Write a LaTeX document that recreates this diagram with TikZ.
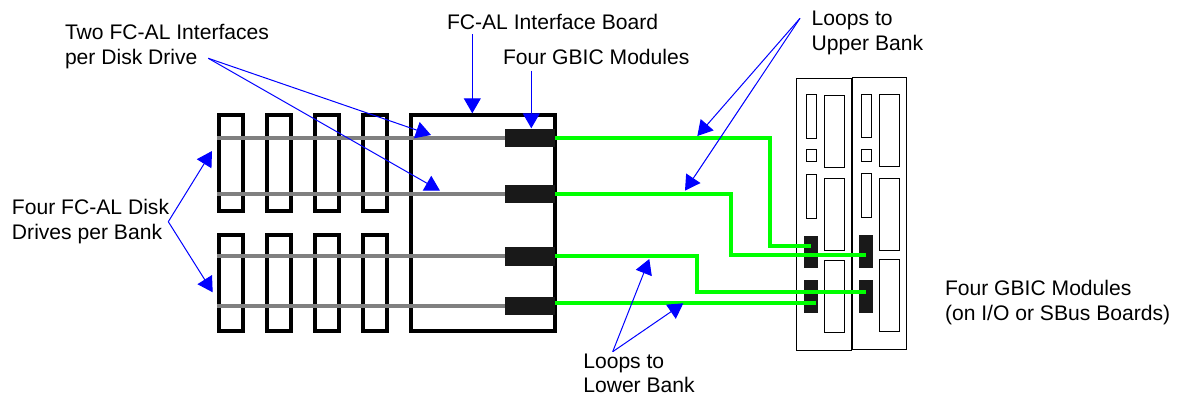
\documentclass[tikz,border=0pt]{standalone}
\usepackage{fontspec}
\setmainfont{Liberation Sans}
\usetikzlibrary{arrows.meta}
\tikzset{
    disk/.style={draw, line width=3.4pt, inner sep=0pt, outer sep=0pt, minimum width=24pt, minimum height=96pt},
    module/.style={fill=black!90, inner sep=0pt, outer sep=0pt},
    slot/.style={draw, line width=1pt, fill=white, inner sep=0pt, outer sep=0pt},
    wire/.style={draw=black!50, line width=4pt},
    fibre/.style={draw=green, line width=4pt},
    pointer/.style={blue, line width=1pt, -{Triangle[length=15pt,width=17pt]}},
    caption/.style={inner sep=0pt, outer sep=0pt, align=left, anchor=base west, font=\fontsize{21.1}{24.6}\selectfont}
}
\begin{document}
\begin{tikzpicture}[x=1pt, y=-1pt]
        \useasboundingbox (0,0) rectangle (1184,397);

        \begin{scope}[every node/.style={disk}]

            \node (d11) at (231,163) {};
            \node (d12) at (279,163) {};
            \node (d13) at (327,163) {};
            \node (d14) at (375,163) {};
            \node (d21) at (231,283) {};
            \node (d22) at (279,283) {};
            \node (d23) at (327,283) {};
            \node (d24) at (375,283) {};

        \end{scope}
        \node[draw, line width=3.4pt, inner sep=0pt, outer sep=0pt, minimum width=144pt, minimum height=216pt] (board) at (483,223) {};

        \begin{scope}[every node/.style={module, minimum width=50pt, minimum height=18.4pt}]

            \node (gbicA) at (530,137.7) {};
            \node (gbicB) at (530,193.7) {};
            \node (gbicC) at (530,256.3) {};
            \node (gbicD) at (530,305.7) {};

        \end{scope}

        \coordinate (wireA) at (217,137.7);
        \coordinate (wireB) at (217,193.7);
        \coordinate (wireC) at (217,256.3);
        \coordinate (wireD) at (217,305.7);

        \path[wire] (wireA) -- (gbicA.west);
        \path[wire] (wireB) -- (gbicB.west);
        \path[wire] (wireC) -- (gbicC.west);
        \path[wire] (wireD) -- (gbicD.west);

        % I/O boards
        \node[slot, minimum width=54.6pt, minimum height=272pt] (ioL) at (824,214) {};
        \node[slot, minimum width=54.6pt, minimum height=272pt] (ioR) at (879.3,213.3) {};

        \begin{scope}[every node/.style={slot, minimum width=10.4pt}]

            \node[minimum height=43.6pt] (slotL1) at (811.5,116.5) {};
            \node[minimum height=12pt] (slotL2) at (811.5,155.7) {};
            \node[minimum height=43.4pt] (slotL3) at (811.5,196.3) {};
            \node[minimum height=43.6pt] (slotR1) at (866.5,115.8) {};
            \node[minimum height=12pt] (slotR2) at (866.5,155) {};
            \node[minimum height=43.4pt] (slotR3) at (866.5,195.6) {};

        \end{scope}
        \begin{scope}[every node/.style={slot, minimum width=20pt, minimum height=72pt}]

            \node (cardL1) at (834.7,131.3) {};
            \node (cardL2) at (834.7,214.7) {};
            \node (cardL3) at (834.7,296.5) {};
            \node (cardR1) at (889.9,130.6) {};
            \node (cardR2) at (889.9,214) {};
            \node (cardR3) at (889.9,295.8) {};

        \end{scope}
        \begin{scope}[every node/.style={module, minimum width=13.7pt, minimum height=32.8pt}]

            \node (modA) at (810.9,252) {};
            \node (modB) at (810.9,296.8) {};
            \node (modC) at (866.1,251.3) {};
            \node (modD) at (866.1,296.1) {};

        \end{scope}

        \coordinate (bendA) at (770,245.8);
        \coordinate (bendB) at (731,255);
        \coordinate (bendC) at (697.3,291.7);
        \coordinate (endD) at (816,303.3);

        \path[fibre] (gbicA.east) -| (bendA) -- (modA.center |- bendA);
        \path[fibre] (gbicB.east) -| (bendB) -- (modC.center |- bendB);
        \path[fibre] (gbicC.east) -| (bendC) -- (modD.center |- bendC);
        \path[fibre] (gbicD.east |- endD) -- (endD);

        \node[caption] (twoLabel) at (65,64.3) {Two FC-AL Interfaces\\per Disk Drive};
        \node[caption] (boardLabel) at (447,29) {FC-AL Interface Board};
        \node[caption] (gbicLabel) at (503,64) {Four GBIC Modules};
        \node[caption] (upperLabel) at (811.7,50) {Loops to\\Upper Bank};
        \node[caption] (fourLabel) at (12,239.3) {Four FC-AL Disk\\Drives per Bank};
        \node[caption] (lowerLabel) at (583.3,392.7) {Loops to\\Lower Bank};
        \node[caption] (moduleLabel) at (945,320) {Four GBIC Modules\\(on I/O or SBus Boards)};

        \coordinate (twoFrom) at (208.3,58.3);
        \coordinate (twoToA) at (431,135);
        \coordinate (twoToB) at (440,190.7);
        \coordinate (boardFrom) at (472.3,34);
        \coordinate (boardTo) at (472.3,113.3);
        \coordinate (gbicFrom) at (531.3,70.7);
        \coordinate (gbicTo) at (531.3,128.3);
        \coordinate (upperFrom) at (800,18.3);
        \coordinate (upperToA) at (697.3,136);
        \coordinate (upperToB) at (685,190.7);
        \coordinate (fourFrom) at (168.3,221.7);
        \coordinate (fourToA) at (212,151);
        \coordinate (fourToB) at (212.7,292.3);
        \coordinate (lowerFrom) at (612.7,351.7);
        \coordinate (lowerToA) at (649.3,259);
        \coordinate (lowerToB) at (683.3,303.3);

        \path[pointer] (twoFrom) edge (twoToA);
        \path[pointer] (twoFrom) edge (twoToB);
        \path[pointer] (boardFrom) edge (boardTo);
        \path[pointer] (gbicFrom) edge (gbicTo);
        \path[pointer] (upperFrom) edge (upperToA);
        \path[pointer] (upperFrom) edge (upperToB);
        \path[pointer] (fourFrom) edge (fourToA);
        \path[pointer] (fourFrom) edge (fourToB);
        \path[pointer] (lowerFrom) edge (lowerToA);
        \path[pointer] (lowerFrom) edge (lowerToB);
    \end{tikzpicture}
\end{document}
